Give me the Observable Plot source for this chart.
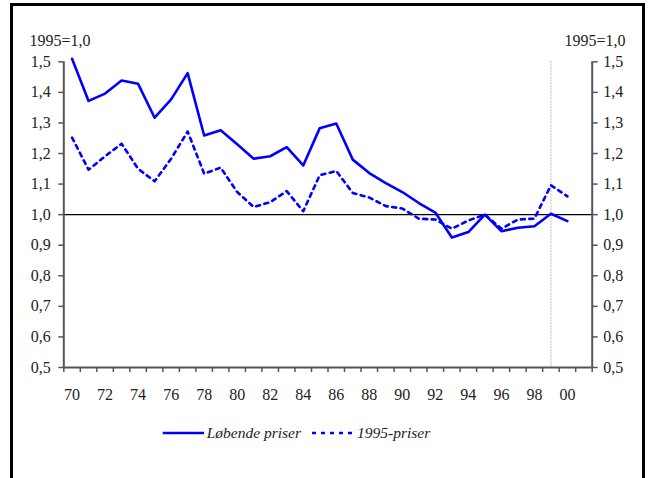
<!DOCTYPE html>
<html><head><meta charset="utf-8">
<script src="https://cdn.jsdelivr.net/npm/d3@7"></script>
<script src="https://cdn.jsdelivr.net/npm/@observablehq/plot@0.6"></script>
<style>
body{margin:0;background:#fff;}
#wrap{position:relative;width:648px;height:478px;overflow:hidden;background:#fff;}
#frame{position:absolute;left:10px;top:3px;width:629px;height:540px;border:3px solid #000;}
#chart{position:absolute;left:0;top:0;}
#legend{position:absolute;left:0;top:412px;}
svg text{font-family:"Liberation Serif","Times New Roman",serif !important;}
</style></head>
<body><div id="wrap"><div id="frame"></div><div id="chart"></div><div id="legend"></div></div>
<script>
const years = [1970,1971,1972,1973,1974,1975,1976,1977,1978,1979,1980,1981,1982,1983,1984,1985,1986,1987,1988,1989,1990,1991,1992,1993,1994,1995,1996,1997,1998,1999,2000];
const lobendePriser = [1.51,1.372,1.396,1.439,1.428,1.317,1.377,1.463,1.259,1.276,1.23,1.183,1.191,1.221,1.161,1.283,1.298,1.18,1.136,1.103,1.074,1.038,1.007,0.925,0.943,1.0,0.946,0.957,0.962,1.003,0.979];
const priser1995 = [1.252,1.147,1.191,1.232,1.15,1.109,1.183,1.272,1.134,1.154,1.074,1.025,1.041,1.077,1.011,1.129,1.143,1.071,1.056,1.028,1.02,0.987,0.984,0.954,0.981,1.0,0.954,0.984,0.987,1.096,1.06];
const seriesNames = ["Løbende priser", "1995-priser"];
const yTicks = [0.5,0.6,0.7,0.8,0.9,1.0,1.1,1.2,1.3,1.4,1.5];
const yTickLabels = ["0,5","0,6","0,7","0,8","0,9","1,0","1,1","1,2","1,3","1,4","1,5"];
const xLabelYears = [1970,1972,1974,1976,1978,1980,1982,1984,1986,1988,1990,1992,1994,1996,1998,2000];
const xTickLabels = ["70","72","74","76","78","80","82","84","86","88","90","92","94","96","98","00"];
const xDomain = [1970, 2002];
const xBoundaries = d3.range(xDomain[0], xDomain[1] + 1);
const markerYear = 1999;
const baseValue = 1.0;
const yUnit = "1995=1,0";

const data = years.map((year, i) => ({year, lob: lobendePriser[i], p95: priser1995[i]}));
const mid = d => d + 0.5;
const font = "Liberation Serif, Times New Roman, serif";
const axisColor = "#555";
const blue = "#0000ff";

const chart = Plot.plot({
  width: 648, height: 420,
  marginTop: 61.3, marginBottom: 53, marginLeft: 63.3, marginRight: 56.3,
  style: {fontFamily: font, fontSize: "16px", color: "#222", background: "transparent", overflow: "visible"},
  x: {domain: xDomain, axis: null},
  y: {domain: [0.5, 1.5], axis: null},
  marks: [
    Plot.ruleX([markerYear], {x: mid, stroke: "#aaa", strokeWidth: 0.8, strokeDasharray: "2,1"}),
    Plot.ruleY([baseValue], {stroke: "#000", strokeWidth: 1.2}),
    Plot.lineY(data, {x: d => mid(d.year), y: "p95", stroke: blue, strokeWidth: 2.6, strokeDasharray: "4,4.5"}),
    Plot.lineY(data, {x: d => mid(d.year), y: "lob", stroke: blue, strokeWidth: 2.6}),
    Plot.ruleX(xDomain, {stroke: axisColor, strokeWidth: 2}),
    Plot.ruleY([0.5], {stroke: axisColor, strokeWidth: 2}),
    Plot.axisY({anchor: "left", ticks: yTicks, tickFormat: d => yTickLabels[yTicks.indexOf(d)], tickSize: 5, tickPadding: 8, stroke: axisColor, strokeWidth: 1.5, label: null}),
    Plot.axisY({anchor: "right", ticks: yTicks, tickFormat: d => yTickLabels[yTicks.indexOf(d)], tickSize: 5, tickPadding: 6, stroke: axisColor, strokeWidth: 1.5, label: null}),
    Plot.axisX({anchor: "bottom", ticks: xBoundaries, tickFormat: () => "", tickSize: 5, stroke: axisColor, strokeWidth: 1.5, label: null}),
    Plot.axisX({anchor: "bottom", ticks: xLabelYears.map(mid), tickFormat: d => xTickLabels[xLabelYears.indexOf(d - 0.5)], tickSize: 0, tickPadding: 21, label: null}),
    Plot.text([yUnit], {frameAnchor: "top-left", text: d => d, textAnchor: "start", lineAnchor: "bottom", dx: -34.3, dy: -16.3, fill: "#222"}),
    Plot.text([yUnit], {frameAnchor: "top-right", text: d => d, textAnchor: "end", lineAnchor: "bottom", dx: 33.3, dy: -16.3, fill: "#222"})
  ]
});
document.getElementById("chart").appendChild(chart);

const ly = 21;
document.getElementById("legend").innerHTML =
`<svg width="648" height="40" style="font-style:italic;font-size:15.5px;fill:#222">
  <line x1="162.7" x2="204" y1="${ly}" y2="${ly}" stroke="${blue}" stroke-width="2.6"/>
  <text x="206.7" y="${ly + 5}">${seriesNames[0]}</text>
  <line x1="312" x2="352" y1="${ly}" y2="${ly}" stroke="${blue}" stroke-width="2.6" stroke-dasharray="4,5"/>
  <text x="357" y="${ly + 5}">${seriesNames[1]}</text>
</svg>`;
</script>
</body></html>
